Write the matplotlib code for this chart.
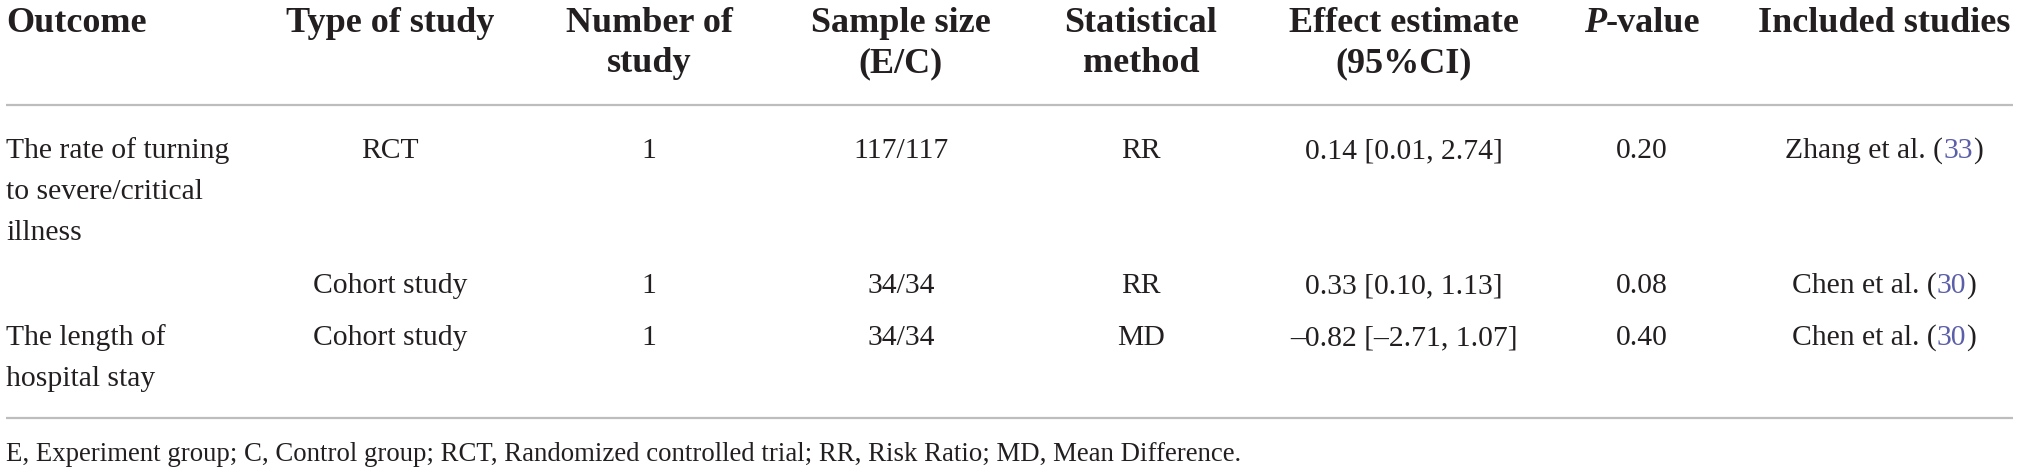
import matplotlib
matplotlib.use("Agg")
import matplotlib.pyplot as plt

# ---- data ----
headers = [["Outcome"], ["Type of study"], ["Number of", "study"], ["Sample size", "(E/C)"],
           ["Statistical", "method"], ["Effect estimate", "(95%CI)"], ["P-value"], ["Included studies"]]
outcomes = [["The rate of turning", "to severe/critical", "illness"], [], ["The length of", "hospital stay"]]
study_types = ["RCT", "Cohort study", "Cohort study"]
n_studies = ["1", "1", "1"]
sample_sizes = ["117/117", "34/34", "34/34"]
methods = ["RR", "RR", "MD"]
effects = ["0.14 [0.01, 2.74]", "0.33 [0.10, 1.13]", "\u20130.82 [\u20132.71, 1.07]"]
p_values = ["0.20", "0.08", "0.40"]
included_authors = ["Zhang et al.", "Chen et al.", "Chen et al."]
included_refs = ["33", "30", "30"]
footnote = ("E, Experiment group; C, Control group; RCT, Randomized controlled trial; "
            "RR, Risk Ratio; MD, Mean Difference.")

# ---- layout ----
W, H = 2019, 471
col_x = [6, 390, 649, 901, 1141, 1404, 1642, 1884]
head_base = [32, 72]
row_base = [158, 293, 345]
line_gap = 41
rule_y = [105, 418]
foot_base = 461

TXT = "#231f20"
LINK = "#5b5ea8"
RULE = "#bdbdbd"
FAM = "Liberation Serif"
HS = 26
DS = 21.3
FS = 19.3

fig = plt.figure(figsize=(W / 100, H / 100), dpi=100)
ax = fig.add_axes([0, 0, 1, 1])
ax.set_xlim(0, W)
ax.set_ylim(H, 0)
ax.axis("off")
fig.canvas.draw()
renderer = fig.canvas.get_renderer()


def rich(xc, y, parts, size, ha="center"):
    """parts: list of (text, weight, style, color)."""
    objs = []
    widths = []
    for s, w, st, c in parts:
        t = ax.text(0, y, s, fontsize=size, fontweight=w, fontstyle=st, color=c,
                    family=FAM, va="baseline", ha="left")
        bb = t.get_window_extent(renderer)
        objs.append(t)
        widths.append(bb.width)
    total = sum(widths)
    x = xc - total / 2 if ha == "center" else xc
    for t, w in zip(objs, widths):
        t.set_x(x)
        x += w


# header
for ci, lines in enumerate(headers):
    for li, s in enumerate(lines):
        if s == "P-value":
            rich(col_x[ci], head_base[li], [("P", "bold", "italic", TXT), ("-value", "bold", "normal", TXT)], HS)
        else:
            ax.text(col_x[ci], head_base[li], s, fontsize=HS, fontweight="bold", color=TXT,
                    family=FAM, va="baseline", ha="left" if ci == 0 else "center")

# rules
for y in rule_y:
    ax.plot([6, 2013], [y, y], color=RULE, lw=1.6, solid_capstyle="butt")

# body
cols = [study_types, n_studies, sample_sizes, methods, effects, p_values]
for ri in range(len(study_types)):
    yb = row_base[ri]
    for li, s in enumerate(outcomes[ri]):
        ax.text(col_x[0], yb + li * line_gap, s, fontsize=DS, color=TXT, family=FAM,
                va="baseline", ha="left")
    for ci, col in enumerate(cols):
        ax.text(col_x[ci + 1], yb, col[ri], fontsize=DS, color=TXT, family=FAM,
                va="baseline", ha="center")
    rich(col_x[7], yb, [(included_authors[ri] + " (", "normal", "normal", TXT),
                        (included_refs[ri], "normal", "normal", LINK),
                        (")", "normal", "normal", TXT)], DS)

ax.text(6, foot_base, footnote, fontsize=FS, color=TXT, family=FAM,
        va="baseline", ha="left")

fig.savefig("out.png", dpi=100, facecolor="white")
